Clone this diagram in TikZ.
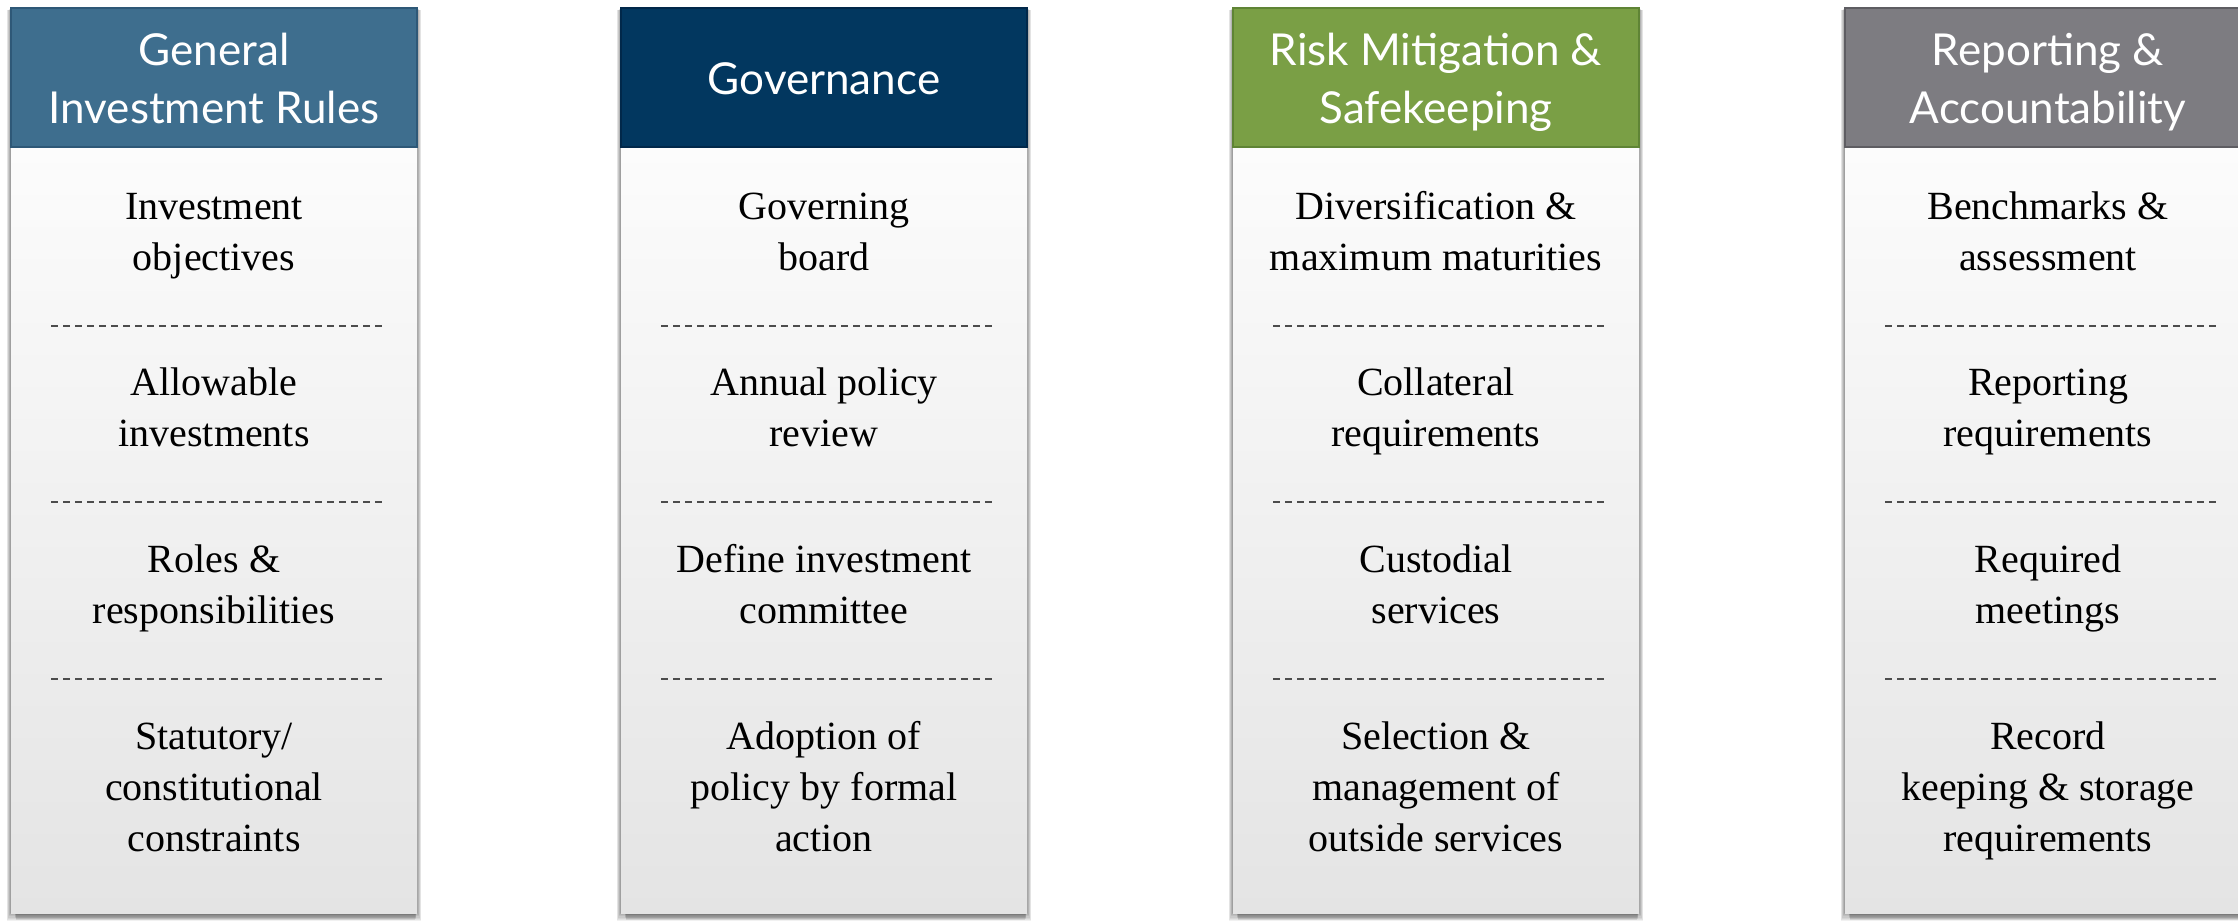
\documentclass[tikz,border=0pt]{standalone}
\usepackage{fontspec}
\setmainfont{Liberation Serif}
\newfontfamily\hdfont{Lato}
\definecolor{fillA}{HTML}{3E6E8E}
\definecolor{lineA}{HTML}{2E5877}
\definecolor{fillB}{HTML}{02375F}
\definecolor{lineB}{HTML}{01284A}
\definecolor{fillC}{HTML}{7A9F45}
\definecolor{lineC}{HTML}{5F8435}
\definecolor{fillD}{HTML}{7D7C81}
\definecolor{lineD}{HTML}{5E5D62}
\definecolor{bodytop}{HTML}{FCFCFC}
\definecolor{bodybot}{HTML}{E4E4E4}
\tikzset{
  hdrbox/.style={minimum width=203pt, minimum height=69.5pt, inner sep=0pt,
    line width=0.8pt},
  hdrtext/.style={text=white, align=center, inner sep=0pt,
    font=\hdfont\fontsize{22}{29}\selectfont},
  itm/.style={text=black, align=center, inner sep=0pt,
    font=\fontsize{20}{25.5}\selectfont},
  sep/.style={draw=black!70, line width=0.7pt, dash pattern=on 3.5pt off 2.5pt},
  shadowlayer/.style={fill=black, opacity=0.055, draw=none},
  botshadow/.style={fill=black, opacity=0.07, draw=none},
}
\newcommand\pillar[9]{%
  \begin{scope}[shift={(#2,0)}]
    \foreach \k in {1,...,8}
      \fill[shadowlayer] (-\k*0.55, 8+\k*0.3) rectangle (406+\k*0.55, 912+\k*1.1);
    \foreach \k in {1,...,6}
      \fill[botshadow] (3+\k*0.3, 900) rectangle (406-\k*0.3, 913+\k*1.2);
    \shade[top color=bodytop, bottom color=bodybot] (0,147) rectangle (406,913);
    \node[hdrbox, fill=#3, draw=#4] (#1h) at (203,77.5) {};
    \node[hdrtext] (#1t) at (203,83) {\strut#5\strut};
    \node[itm] (#1a) at (203,235) {\strut#6\strut};
    \node[itm] (#1b) at (203,411) {\strut#7\strut};
    \node[itm] (#1c) at (203,588) {\strut#8\strut};
    \node[itm] (#1d) at (203,790) {\strut#9\strut};
    \draw[sep] (40,326) -- (372,326);
    \draw[sep] (40,502) -- (372,502);
    \draw[sep] (40,679) -- (372,679);
  \end{scope}}
\begin{document}
\begin{tikzpicture}[x=0.5pt, y=-0.5pt]
  \useasboundingbox (0,0) rectangle (2238,921);
  \clip (0,0) rectangle (2238,921);
  \fill[white] (0,0) rectangle (2238,921);
  \pillar{p1}{11}{fillA}{lineA}{General\\Investment Rules}
    {Investment\\objectives}{Allowable\\investments}
    {Roles \&\\responsibilities}{Statutory/\\constitutional\\constraints}
  \pillar{p2}{621}{fillB}{lineB}{Governance}
    {Governing\\board}{Annual policy\\review}
    {Define investment\\committee}{Adoption of\\policy by formal\\action}
  \pillar{p3}{1233}{fillC}{lineC}{Risk Mitigation \&\\Safekeeping}
    {Diversification \&\\maximum maturities}{Collateral\\requirements}
    {Custodial\\services}{Selection \&\\management of\\outside services}
  \pillar{p4}{1845}{fillD}{lineD}{Reporting \&\\Accountability}
    {Benchmarks \&\\assessment}{Reporting\\requirements}
    {Required\\meetings}{Record\\keeping \& storage\\requirements}
\end{tikzpicture}
\end{document}
